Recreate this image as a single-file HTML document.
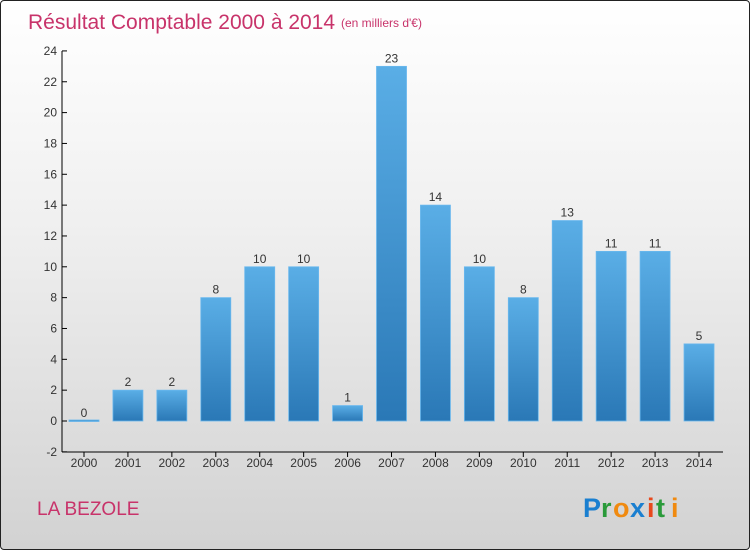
<!DOCTYPE html>
<html><head><meta charset="utf-8"><style>
html,body{margin:0;padding:0}
body{width:750px;height:550px;overflow:hidden;font-family:"Liberation Sans",sans-serif}
#frame{position:absolute;left:0;top:0;width:748px;height:548px;border:1px solid #222;border-radius:4px;background:linear-gradient(#ffffff 0%,#f0f0f0 40%,#d2d2d2 100%)}
</style></head><body>
<div id="frame">
<svg width="750" height="550">
<defs><linearGradient id="bg" x1="0" y1="0" x2="0" y2="1"><stop offset="0" stop-color="#5aaee6"/><stop offset="1" stop-color="#2a78b6"/></linearGradient></defs>
<text x="27" y="28" font-size="21" fill="#c8336a">Résultat Comptable 2000 à 2014</text>
<text x="340" y="26" font-size="12" fill="#c8336a">(en milliers d'€)</text>
<g id="axes"></g><g id="bars"></g>
<text x="36" y="514" font-size="19" fill="#c8336a">LA BEZOLE</text>
<g font-size="27" font-weight="bold" font-family="Liberation Sans,sans-serif">
<text x="582" y="516" fill="#1a7fd0">P</text><text x="600" y="516" fill="#2a9a3a">r</text><text x="612" y="516" fill="#f08a10">o</text><text x="629" y="516" fill="#1a7fd0">x</text><text x="646" y="516" fill="#e8491d">i</text><text x="655" y="516" fill="#2a9a3a">t</text><text x="670" y="516" fill="#f08a10">i</text>
</g>
</svg></div>
<script>
const years=["2000","2001","2002","2003","2004","2005","2006","2007","2008","2009","2010","2011","2012","2013","2014"];
const values=[0,2,2,8,10,10,1,23,14,10,8,13,11,11,5];
const yTicks=[-2,0,2,4,6,8,10,12,14,16,18,20,22,24];
const NS="http://www.w3.org/2000/svg";
const y=v=>420-v*15.42;
const x=i=>83+i*43.93;
function mk(t,a,p){const e=document.createElementNS(NS,t);for(const k in a)e.setAttribute(k,a[k]);p.appendChild(e);return e;}
const ax=document.getElementById('axes'),bg=document.getElementById('bars');
let l=mk('line',{x1:61,y1:50,x2:61,y2:451,stroke:'#000'},ax);


l=mk('line',{x1:61,y1:451,x2:722,y2:451,stroke:'#000'},ax);


yTicks.forEach(v=>{
 mk('line',{x1:61,y1:y(v),x2:66,y2:y(v),stroke:'#000'},ax);
 const t=mk('text',{x:56,y:y(v)+4,'text-anchor':'end','font-size':12,fill:'#333'},ax);
 t.textContent=v;
 
 
});
years.forEach((yr,i)=>{
 mk('line',{x1:x(i),y1:451,x2:x(i),y2:456,stroke:'#000'},ax);
 const t=mk('text',{x:x(i),y:466,'text-anchor':'middle','font-size':12,fill:'#333'},ax);
 t.textContent=yr;
 
 
 const v=values[i];
 const top=y(Math.max(v,0)),h=Math.max(Math.abs(y(v)-y(0)),1.5);
 const r=mk('rect',{x:x(i)-15,y:v===0?419:top,width:30,height:h,fill:'url(#bg)',stroke:'#6ab8ee','stroke-width':0.8},bg);
 
 
 const lb=mk('text',{x:x(i),y:top-4,'text-anchor':'middle','font-size':12,fill:'#333'},bg);
 lb.textContent=v;
 
 
});
</script>
</body></html>
